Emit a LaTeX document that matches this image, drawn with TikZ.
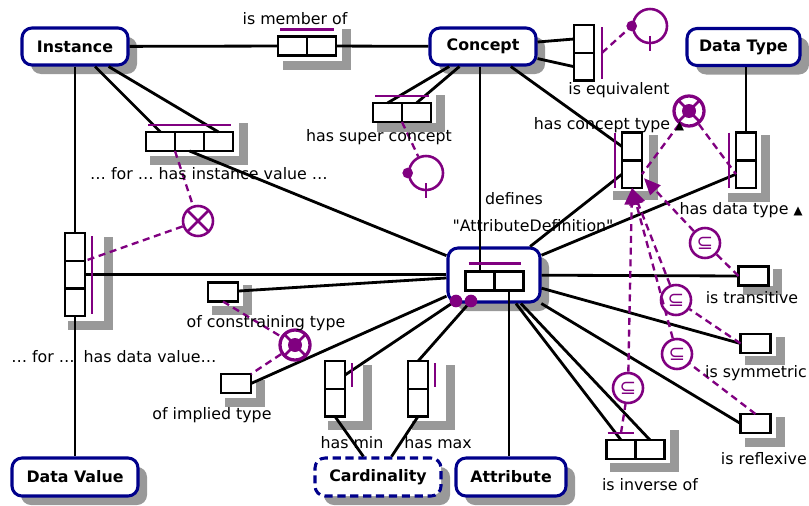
\documentclass[tikz,border=0pt]{standalone}
\usepackage{fontspec}
\setmainfont{DejaVu Sans}
\usetikzlibrary{positioning,shadows,arrows.meta}
\definecolor{ormblue}{RGB}{0,0,139}
\definecolor{ormpurple}{RGB}{128,0,128}
\newcommand\dq{\XeTeXglyph\XeTeXcharglyph"22\relax}
\begin{document}
\begin{tikzpicture}[x=0.03cm,y=-0.03cm,font=\fontsize{13.5}{16}\selectfont,
    entity/.style={draw=ormblue,line width=2.6pt,rounded corners=0.3cm,fill=white,inner sep=0pt,
        font=\fontsize{13.5}{16}\selectfont\bfseries,
        drop shadow={shadow xshift=0.27cm,shadow yshift=-0.27cm,fill=black!40,opacity=1}},
    role/.style={draw,line width=2.2pt,fill=white,outer sep=0pt,inner sep=0pt,minimum width=0.87cm,minimum height=0.57cm},
    vrole/.style={role,minimum width=0.6cm,minimum height=0.83cm},
    unary/.style={role,minimum width=0.9cm},
    link/.style={line width=2.4pt},
    ubar/.style={draw=ormpurple,line width=2pt},
    cline/.style={draw=ormpurple,line width=2pt,dash pattern=on 6pt off 4pt},
    tip/.style={-{Triangle[length=0.5cm,width=0.42cm]}},
    ring/.style={circle,draw=ormpurple,line width=2.2pt,minimum size=1.02cm,inner sep=0pt},
    excl/.style={circle,draw=ormpurple,line width=2.2pt,minimum size=0.9cm,inner sep=0pt,
        path picture={\draw[ormpurple,line width=2.2pt] (path picture bounding box.north west) -- (path picture bounding box.south east)
            (path picture bounding box.north east) -- (path picture bounding box.south west);}},
    xor/.style={circle,draw=ormpurple,line width=2.8pt,minimum size=0.9cm,inner sep=0pt,
        path picture={\fill[ormpurple] (path picture bounding box.center) circle (0.21cm);
            \draw[ormpurple,line width=2.2pt] (path picture bounding box.north west) -- (path picture bounding box.south east)
            (path picture bounding box.north east) -- (path picture bounding box.south west);}},
    subset/.style={circle,draw=ormpurple,line width=2.2pt,minimum size=0.9cm,inner sep=0pt,text=ormpurple,
        font=\fontsize{17}{17}\selectfont}]
\useasboundingbox (0,0) rectangle (809,506);

\foreach \a/\b/\c/\d in {274/20/342/61,368/86/436/123,141/114/239/156,604/126/649/191,719/126/761/193,
    59/228/104/321,319/356/363/421,403/356/446/421,203/276/243/306,216/371/256/398,
    734/260/773/286,736/328/776/356,736/408/776/438,601/421/670/463}
    {\fill[black!40] (\a+9,\b+9) rectangle (\c+9,\d+9);
     \fill[white] (\a,\b) rectangle (\c,\d);}

\node[entity,minimum width=3.18cm,minimum height=1.11cm] (inst) at (75,46.5) {Instance};
\node[entity,minimum width=3.18cm,minimum height=1.11cm] (conc) at (483,46.5) {Concept};
\node[entity,minimum width=3.39cm,minimum height=1.11cm] (dtype) at (743.5,47) {Data Type};
\node[entity,minimum width=3.78cm,minimum height=1.14cm] (dval) at (75,477) {Data Value};
\node[entity,minimum width=3.78cm,minimum height=1.14cm,dash pattern=on 7pt off 4pt] (card) at (378,477) {Cardinality};
\node[entity,minimum width=3.3cm,minimum height=1.14cm] (attr) at (511,477) {Attribute};
\node[entity,minimum width=2.76cm,minimum height=1.62cm] (ad) at (494,275) {};

\node[role] (mem1) at (292.5,46) {};
\node[role,right=0pt of mem1] (mem2) {};
\node[role] (sc1) at (387.5,112.5) {};
\node[role,right=0pt of sc1] (sc2) {};
\node[role] (iv1) at (160.5,141.5) {};
\node[role,right=0pt of iv1] (iv2) {};
\node[role,right=0pt of iv2] (iv3) {};
\node[role] (ad1) at (480,281) {};
\node[role,right=0pt of ad1] (ad2) {};
\node[vrole] (eq1) at (584,39) {};
\node[vrole,below=0pt of eq1] (eq2) {};
\node[vrole] (hct1) at (632,146.5) {};
\node[vrole,below=0pt of hct1] (hct2) {};
\node[vrole] (hdt1) at (746,146.5) {};
\node[vrole,below=0pt of hdt1] (hdt2) {};
\node[vrole] (dv1) at (75,247) {};
\node[vrole,below=0pt of dv1] (dv2) {};
\node[vrole,below=0pt of dv2] (dv3) {};
\node[vrole] (hmin1) at (335,375) {};
\node[vrole,below=0pt of hmin1] (hmin2) {};
\node[vrole] (hmax1) at (418,375) {};
\node[vrole,below=0pt of hmax1] (hmax2) {};
\node[unary] (ct) at (223,292) {};
\node[unary] (it) at (236,383.5) {};
\node[unary] (istr) at (753.5,276) {};
\node[unary] (isym) at (755.5,343.5) {};
\node[unary] (irefl) at (755.5,423.5) {};
\node[role] (inv1) at (621,449.5) {};
\node[role,right=0pt of inv1] (inv2) {};

\draw[link] (inst) -- (mem1);
\draw[link] (mem2) -- (conc);
\draw[link] (inst) -- (iv1.north);
\draw[link] (inst) -- (iv3.north);
\draw[link] (iv2.south) -- (ad);
\draw[link] (dv1.north |- inst.south) -- (dv1.north);
\draw[link] (dv3.south) -- (dv3.south |- dval.north);
\draw[link] (dv2.east) -- (dv2.east -| ad.west);
\draw[link] (conc) -- (sc1.north);
\draw[link] (conc) -- (sc2.north);
\draw[link] (ad1.north |- conc.south) -- (ad1.north);
\draw[link] (conc) -- (eq1.west);
\draw[link] (conc) -- (eq2.west);
\draw[link] (conc) -- (hct1.west);
\draw[link] (hct2.west) -- (ad);
\draw[link] (hdt1.north |- dtype.south) -- (hdt1.north);
\draw[link] (hdt2.west) -- (ad);
\draw[link] (ad) -- (istr.west);
\draw[link] (ad) -- (isym.west);
\draw[link] (ad) -- (irefl.west);
\draw[link] (ad) -- (inv1.north);
\draw[link] (ad) -- (inv2.north);
\draw[link] (ad2.south) -- (ad2.south |- attr.north);
\draw[link] (ct) -- (ad);
\draw[link] (it.east) -- (ad);
\draw[link] (hmin1.east) -- (ad);
\draw[link] (hmax1.north) -- (ad);
\draw[link] (hmin2.south) -- (card);
\draw[link] (hmax2.south) -- (card);
\fill[ormpurple] (456,301) circle (0.19cm) (471,301) circle (0.19cm);

\draw[ubar] ([shift={(2,-7)}]mem1.north west) -- ([shift={(-2,-7)}]mem2.north east);
\draw[ubar] ([shift={(2,-7)}]sc1.north west) -- ([shift={(-2,-7)}]sc2.north east);
\draw[ubar] ([shift={(2,-7)}]iv1.north west) -- ([shift={(-2,-7)}]iv3.north east);
\draw[ubar] ([shift={(3,-8)}]ad1.north west) -- ([shift={(-3,-8)}]ad2.north east);
\draw[ubar] ([shift={(8,2)}]eq1.north east) -- ([shift={(8,-2)}]eq2.south east);
\draw[ubar] ([shift={(-7,0)}]hct1.north west) -- ([shift={(-7,0)}]hct2.south west);
\draw[ubar] ([shift={(-7,0)}]hdt1.north west) -- ([shift={(-7,0)}]hdt2.south west);
\draw[ubar] ([shift={(7,3)}]dv1.north east) -- ([shift={(7,-2)}]dv3.south east);
\draw[ubar] ([shift={(7,2)}]hmin1.north east) -- ([shift={(7,-2)}]hmin1.south east);
\draw[ubar] ([shift={(7,2)}]hmax1.north east) -- ([shift={(7,-2)}]hmax1.south east);
\draw[ubar] ([shift={(1,-7)}]inv1.north west) -- ([shift={(-2,-7)}]inv1.north east);

\node[ring] (ringsc) at (426,173) {};
\fill[ormpurple] (ringsc.west) circle (0.16cm);
\draw[ubar] ([shift={(0,10)}]ringsc.center) -- ([shift={(0,25)}]ringsc.center);
\draw[cline] (sc1.south east) -- (ringsc);
\node[ring] (ringeq) at (650,26) {};
\fill[ormpurple] (ringeq.west) circle (0.16cm);
\draw[ubar] ([shift={(0,10)}]ringeq.center) -- ([shift={(0,25)}]ringeq.center);
\draw[cline] ([shift={(8,0)}]eq1.south east) -- (ringeq.west);

\node[excl] (xiv) at (198,221) {};
\draw[cline] (iv1.south east) -- (xiv);
\draw[cline] (xiv) -- (dv1.south east);
\node[xor] (xtype) at (689,111) {};
\draw[cline] (xtype) -- (hct2.east);
\draw[cline] (xtype) -- (hdt2.west);
\node[xor] (ximp) at (295,345) {};
\draw[cline] (ct.south) -- (ximp);
\draw[cline] (ximp) -- (it.north east);

\node[subset] (sstr) at (705,243) {⊆};
\node[subset] (ssym) at (676,300) {⊆};
\node[subset] (sref) at (677,354) {⊆};
\node[subset] (sinv) at (628,388) {⊆};
\draw[cline] (istr.west) -- (sstr);
\draw[cline] (isym.west) -- (ssym);
\draw[cline] (irefl.north) -- (sref);
\draw[cline] ([shift={(0,-7)}]inv1.north) -- (sinv);
\draw[cline,tip] (sstr) -- ([shift={(2,4)}]hct2.east);
\draw[cline,tip] (ssym) -- (hct2.south);
\draw[cline,tip] (sref) -- (hct2.south);
\draw[cline,tip] (sinv) -- (hct2.south);

\node (lmem) at (295,19) {is member of};
\node (lsc) at (379,137) {has super concept};
\node (leq) at (619,90) {is equivalent};
\node (lhct) at (609,125) {has concept type {\fontsize{10}{10}\selectfont▲}};
\node (liv) at (209,174) {… for … has instance value …};
\node (ldef) at (514,199) {defines};
\node (ladname) at (533,226) {\dq AttributeDefinition\dq};
\node (lhdt) at (741,210) {has data type {\fontsize{10}{10}\selectfont▲}};
\node (lstr) at (752,298) {is transitive};
\node[anchor=east,inner sep=0pt] (lsym) at (807,373) {is symmetric};
\node[anchor=east,inner sep=0pt] (lref) at (807,459) {is reflexive};
\node (linv) at (650,485) {is inverse of};
\node (lct) at (266,323) {of constraining type};
\node (lfor) at (43,357) {… for …};
\node (ldv) at (150,357) {has data value…};
\node (lit) at (212,415) {of implied type};
\node (lmin) at (352,443) {has min};
\node (lmax) at (438,443) {has max};
\end{tikzpicture}
\end{document}
